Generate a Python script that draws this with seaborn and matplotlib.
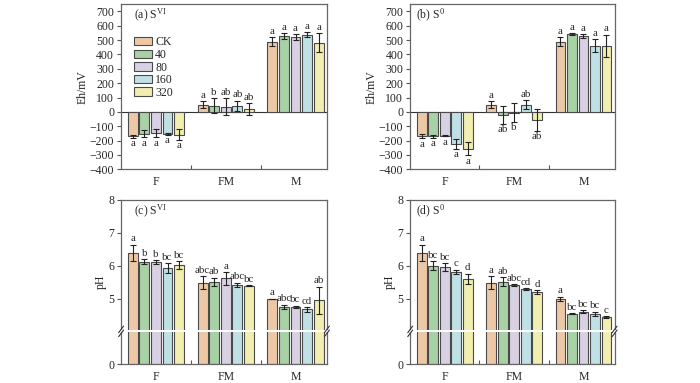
import numpy as np
import pandas as pd
import matplotlib
matplotlib.use("Agg")
import matplotlib.pyplot as plt
import seaborn as sns

sns.set_style("ticks")
plt.rcParams['font.family'] = ['Liberation Serif', 'DejaVu Serif']
plt.rcParams['mathtext.fontset'] = 'custom'
plt.rcParams['mathtext.rm'] = 'Liberation Serif'
plt.rcParams['mathtext.it'] = 'Liberation Serif:italic'
plt.rcParams['font.size'] = 8

# Data
groups = ['F', 'FM', 'M']
treatments = ['CK', '40', '80', '160', '320']
colors = ['#F9C89A', '#A2D89E', '#D8CDE6', '#B8E6EC', '#FCF8A4']

# Eh (mV), S(VI); one row per group, one value per treatment
eh_s6 = [[-169, -151, -146, -153, -158],
         [51, 44, 35, 42, 19],
         [490, 527, 520, 538, 483]]
eh_s6_err = [[10, 25, 30, 8, 38],
             [22, 50, 60, 35, 40],
             [30, 22, 22, 18, 65]]
eh_s6_let = [['a', 'a', 'a', 'a', 'a'],
             ['a', 'b', 'ab', 'ab', 'ab'],
             ['a', 'a', 'a', 'a', 'a']]

# Eh (mV), S(0)
eh_s0 = [[-169, -169, -165, -222, -258],
         [51, -23, -5, 49, -58],
         [490, 541, 527, 462, 460]]
eh_s0_err = [[15, 10, 5, 35, 45],
             [22, 62, 65, 32, 75],
             [30, 5, 15, 45, 78]]
eh_s0_let = [['a', 'a', 'a', 'a', 'a'],
             ['a', 'ab', 'b', 'ab', 'ab'],
             ['a', 'a', 'a', 'a', 'a']]

# pH, S(VI)
ph_s6 = [[6.39, 6.12, 6.11, 5.93, 6.01],
         [5.48, 5.51, 5.61, 5.41, 5.39],
         [4.98, 4.74, 4.74, 4.67, 4.94]]
ph_s6_err = [[0.25, 0.07, 0.06, 0.15, 0.12],
             [0.20, 0.12, 0.20, 0.07, 0.02],
             [0.01, 0.07, 0.04, 0.07, 0.42]]
ph_s6_let = [['a', 'b', 'b', 'bc', 'bc'],
             ['abc', 'ab', 'a', 'abc', 'bc'],
             ['a', 'abc', 'bc', 'cd', 'ab']]

# pH, S(0)
ph_s0 = [[6.39, 6.00, 5.95, 5.81, 5.60],
         [5.48, 5.51, 5.40, 5.29, 5.20],
         [4.98, 4.54, 4.60, 4.54, 4.43]]
ph_s0_err = [[0.25, 0.13, 0.12, 0.07, 0.15],
             [0.20, 0.14, 0.03, 0.03, 0.05],
             [0.07, 0.02, 0.04, 0.06, 0.03]]
ph_s0_let = [['a', 'bc', 'bc', 'c', 'd'],
             ['a', 'ab', 'abc', 'cd', 'd'],
             ['a', 'bc', 'bc', 'bc', 'c']]


def to_df(vals, errs):
    rows = []
    for gi, g in enumerate(groups):
        for ti, t in enumerate(treatments):
            rows.append((g, t, vals[gi][ti], errs[gi][ti]))
    return pd.DataFrame(rows, columns=['group', 'treatment', 'value', 'err'])


def ph_fwd(v):
    v = np.asarray(v, dtype=float)
    return np.where(v < 4, v / 4.0, v - 3.0)


def ph_inv(d):
    d = np.asarray(d, dtype=float)
    return np.where(d < 1, d * 4.0, d + 3.0)


def draw_panel(ax, vals, errs, lets, title, show_legend=False, ph=False):
    df = to_df(vals, errs)
    if ph:
        ax.set_yscale('function', functions=(ph_fwd, ph_inv))
    sns.barplot(data=df, x='group', y='value', hue='treatment',
                order=groups, hue_order=treatments, palette=colors,
                width=0.83, gap=0.15, edgecolor='#4a4a4a', linewidth=0.8,
                errorbar=None, legend=show_legend, ax=ax, zorder=2)
    # error bars and letters
    bar_conts = list(ax.containers)
    for ti, cont in enumerate(bar_conts):
        for gi, bar in enumerate(cont.patches):
            x = bar.get_x() + bar.get_width() / 2
            v = vals[gi][ti]
            e = errs[gi][ti]
            ax.errorbar(x, v, yerr=e, fmt='none', ecolor='#222222',
                        elinewidth=0.8, capsize=2, capthick=0.8, zorder=3)
            if v >= 0:
                ax.annotate(lets[gi][ti], (x, v + e), xytext=(0, 1),
                            textcoords='offset points', ha='center',
                            va='bottom', fontsize=7.8)
            else:
                ax.annotate(lets[gi][ti], (x, v - e), xytext=(0, -1),
                            textcoords='offset points', ha='center',
                            va='top', fontsize=7.8)

    ax.set_xlim(-0.5, 2.45)
    ax.set_xlabel('')
    ax.set_xticks([0.5, 1.5], minor=True)
    ax.tick_params(axis='x', which='major', length=0, pad=5, labelsize=8.5)
    ax.tick_params(axis='x', which='minor', direction='in', length=3,
                   width=0.8, color='#555555')
    ax.tick_params(axis='y', which='both', direction='out', length=3,
                   width=0.8, color='#555555', labelsize=8.5, pad=2)
    ax.tick_params(axis='y', which='minor', length=0)
    for s in ax.spines.values():
        s.set_visible(True)
        s.set_color('#666666')
        s.set_linewidth(0.9)
    ax.text(0.03 if 'S$^0' in title else 0.065, 0.93, title,
            transform=ax.transAxes, ha='left', va='center', fontsize=8.5)

    if ph:
        ax.set_ylim(0, 8)
        ax.set_yticks([0, 5, 6, 7, 8])
        ax.set_yticklabels(['0', '5', '6', '7', '8'])
        ax.set_ylabel('pH', fontsize=8.5, labelpad=1)
        # axis break
        ax.axhspan(3.9, 4.05, xmin=-0.01, xmax=1.01, color='white',
                   zorder=4, clip_on=False, lw=0)
        yb = 0.2
        for xs in (0.0, 1.0):
            for dy in (-0.012, 0.012):
                ax.plot([xs - 0.012, xs + 0.012], [yb + dy - 0.02, yb + dy + 0.02],
                        transform=ax.transAxes, color='#333333', lw=0.8,
                        clip_on=False, zorder=5)
    else:
        ax.set_ylim(-400, 750)
        ax.set_yticks(np.arange(-400, 701, 100))
        ax.axhline(0, color='#333333', lw=0.8, zorder=1)
        ax.set_ylabel('Eh/mV', fontsize=8.5, labelpad=1)

    if show_legend:
        ax.legend(loc='upper left', bbox_to_anchor=(0.065, 0.805), frameon=False,
                  fontsize=8.5, handlelength=1.45, handleheight=0.7,
                  labelspacing=0.05, handletextpad=0.3, borderpad=0.0,
                  borderaxespad=0.0)


fig = plt.figure(figsize=(7, 3.83), dpi=100)
ax_a = fig.add_axes([0.173, 0.558, 0.294, 0.431])
ax_b = fig.add_axes([0.586, 0.558, 0.292, 0.431])
ax_c = fig.add_axes([0.173, 0.049, 0.294, 0.429])
ax_d = fig.add_axes([0.586, 0.049, 0.292, 0.429])

draw_panel(ax_a, eh_s6, eh_s6_err, eh_s6_let, r'(a) S$^{\mathrm{VI}}$', show_legend=True)
draw_panel(ax_b, eh_s0, eh_s0_err, eh_s0_let, r'(b) S$^0$')
draw_panel(ax_c, ph_s6, ph_s6_err, ph_s6_let, r'(c) S$^{\mathrm{VI}}$', ph=True)
draw_panel(ax_d, ph_s0, ph_s0_err, ph_s0_let, r'(d) S$^0$', ph=True)

fig.savefig('out.png', dpi=100)
